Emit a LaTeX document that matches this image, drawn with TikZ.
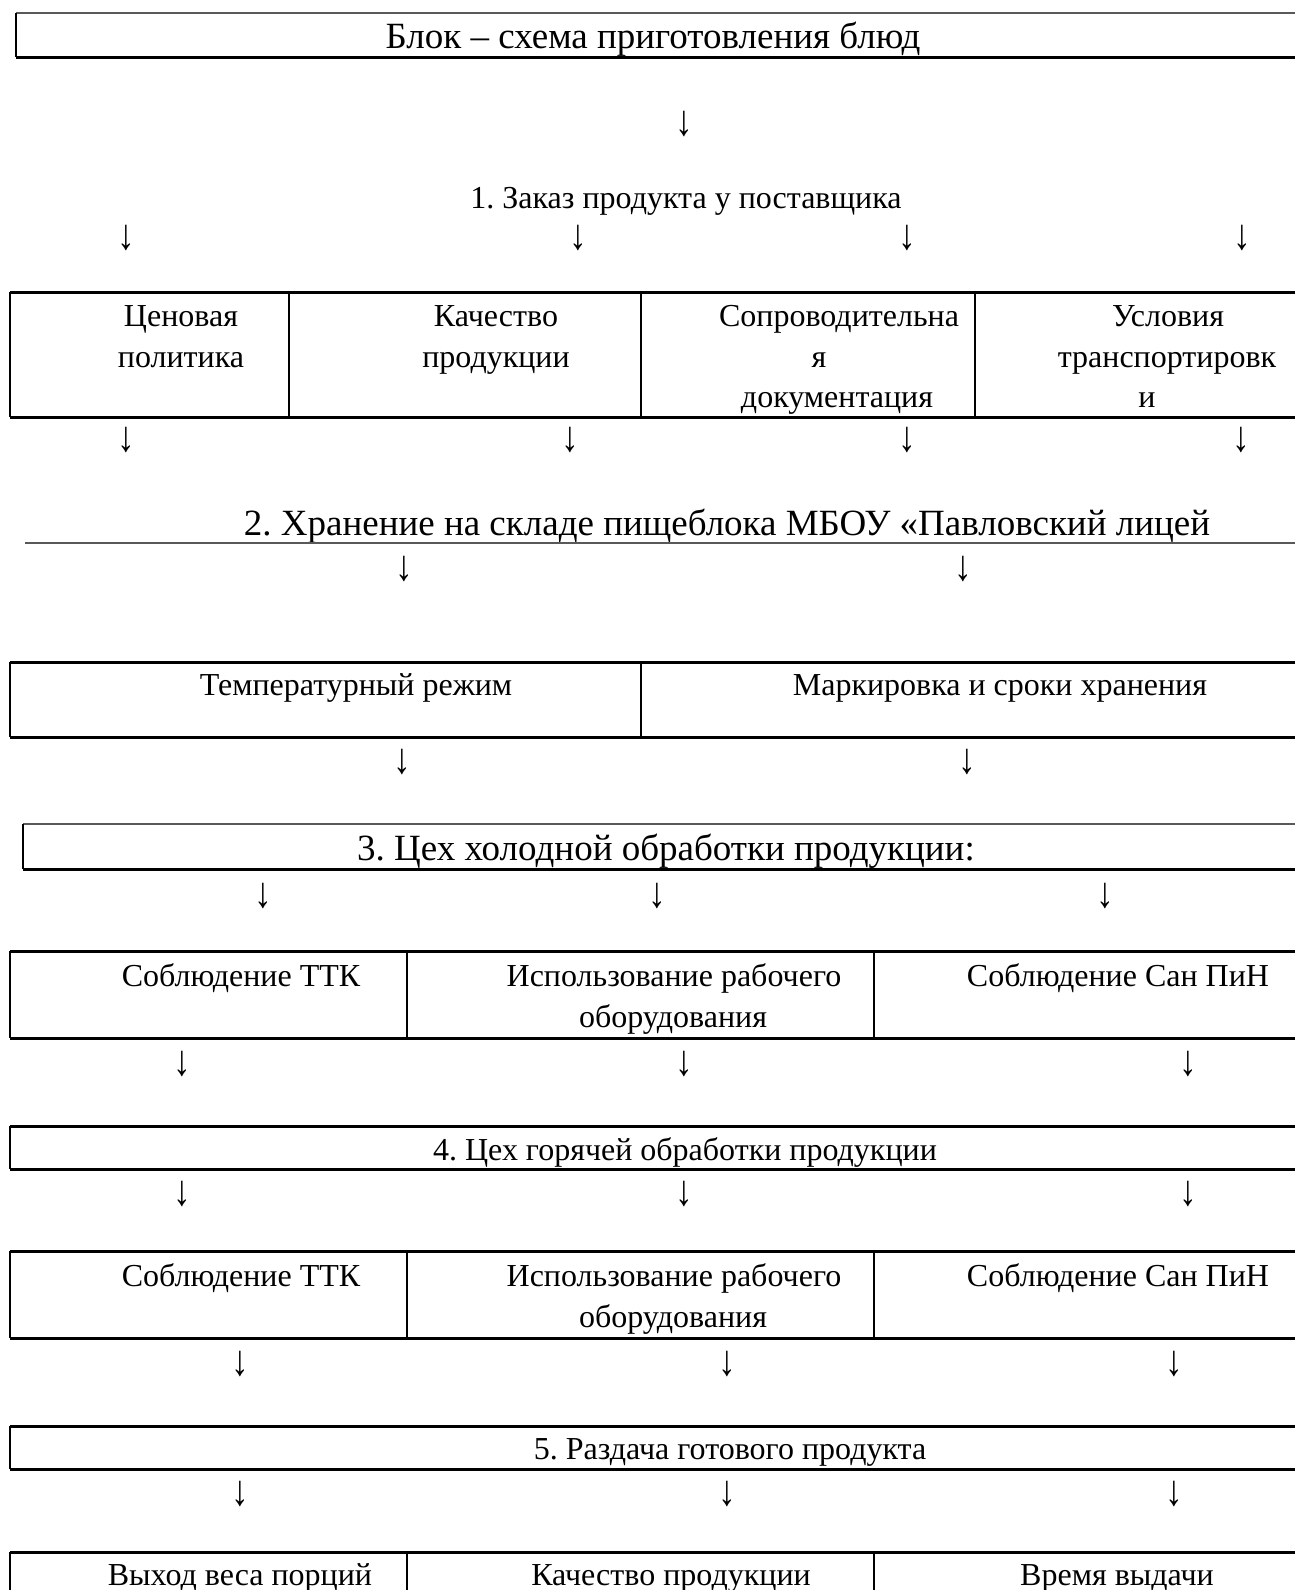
\documentclass[tikz,border=0pt]{standalone}
\usepackage{fontspec}
\usepackage{graphicx}
\setmainfont{Liberation Serif}
\frenchspacing
\newcommand{\dnarrow}{\scalebox{1.1}[1.35]{↓}}
\tikzset{
  txt/.style={inner sep=0pt, outer sep=0pt, anchor=base, font=\fontsize{32}{38}\selectfont},
  big/.style={inner sep=0pt, outer sep=0pt, anchor=base, font=\fontsize{37}{44}\selectfont},
  arrowglyph/.style={inner sep=0pt, outer sep=0pt, anchor=center, font=\fontsize{32}{38}\selectfont},
  rulethick/.style={line width=3pt, black},
  rulegray/.style={line width=2.2pt, black!65},
  sideline/.style={line width=1.5pt, black},
  divider/.style={line width=1.2pt, black},
}
\begin{document}
\begin{tikzpicture}[x=1pt,y=-1pt]
\clip (0,0) rectangle (1295,1590);
\fill[white] (0,0) rectangle (1295,1590);

% ---------- title box ----------
\draw[rulegray] (16,13) -- (1300,13);
\draw[rulethick] (16,57) -- (1300,57);
\draw[sideline] (16,13) -- (16,57);
\node[big] (title) at (653,48) {Блок – схема приготовления блюд};

\node[arrowglyph] (a0) at (684,124.5) {\dnarrow};

% ---------- step 1 ----------
\node[txt] (s1) at (686,208) {1. Заказ продукта у поставщика};
\node[arrowglyph] (a1a) at (126,238) {\dnarrow};
\node[arrowglyph] (a1b) at (578,238) {\dnarrow};
\node[arrowglyph] (a1c) at (907,238) {\dnarrow};
\node[arrowglyph] (a1d) at (1242,238) {\dnarrow};

% table 1
\draw[rulethick] (10,292) -- (1300,292);
\draw[rulethick] (10,417) -- (1300,417);
\draw[sideline] (10,292) -- (10,417);
\draw[divider] (289,292) -- (289,417);
\draw[divider] (641,292) -- (641,417);
\draw[divider] (975,292) -- (975,417);
\node[txt] (c11a) at (181,326) {Ценовая};
\node[txt] (c11b) at (181,367) {политика};
\node[txt] (c12a) at (496,326) {Качество};
\node[txt] (c12b) at (496,367) {продукции};
\node[txt] (c13a) at (839,326) {Сопроводительна};
\node[txt] (c13b) at (819,367) {я};
\node[txt] (c13c) at (837,407) {документация};
\node[txt] (c14a) at (1168,326) {Условия};
\node[txt] (c14b) at (1167,367) {транспортировк};
\node[txt] (c14c) at (1147,407) {и};

\node[arrowglyph] (a2a) at (126,440) {\dnarrow};
\node[arrowglyph] (a2b) at (570,440) {\dnarrow};
\node[arrowglyph] (a2c) at (907,440) {\dnarrow};
\node[arrowglyph] (a2d) at (1241,440) {\dnarrow};

% ---------- step 2 ----------
\node[big] (s2) at (727,535) {2. Хранение на складе пищеблока МБОУ «Павловский лицей};
\draw[rulegray] (25,543) -- (1300,543);
\node[arrowglyph] (a3a) at (404,569) {\dnarrow};
\node[arrowglyph] (a3b) at (963,569) {\dnarrow};

% table 2
\draw[rulethick] (10,662) -- (1300,662);
\draw[rulethick] (10,737) -- (1300,737);
\draw[sideline] (10,662) -- (10,737);
\draw[divider] (641,662) -- (641,737);
\node[txt] (c21) at (356,695) {Температурный режим};
\node[txt] (c22) at (1000,695) {Маркировка и сроки хранения};

\node[arrowglyph] (a4a) at (402,762) {\dnarrow};
\node[arrowglyph] (a4b) at (967,762) {\dnarrow};

% ---------- step 3 ----------
\draw[rulegray] (23,824) -- (1300,824);
\draw[rulethick] (23,869) -- (1300,869);
\draw[sideline] (23,824) -- (23,869);
\node[big] (s3) at (666,860) {3. Цех холодной обработки продукции:};

\node[arrowglyph] (a5a) at (263,896) {\dnarrow};
\node[arrowglyph] (a5b) at (657,896) {\dnarrow};
\node[arrowglyph] (a5c) at (1105,896) {\dnarrow};

% table 3
\draw[rulethick] (10,951) -- (1300,951);
\draw[rulethick] (10,1038) -- (1300,1038);
\draw[sideline] (10,951) -- (10,1038);
\draw[divider] (407,951) -- (407,1038);
\draw[divider] (874,951) -- (874,1038);
\node[txt] (c31) at (241,986) {Соблюдение ТТК};
\node[txt] (c32a) at (674,986) {Использование рабочего};
\node[txt] (c32b) at (673,1027) {оборудования};
\node[txt] (c33) at (1118,986) {Соблюдение Сан ПиН};

\node[arrowglyph] (a6a) at (182,1064) {\dnarrow};
\node[arrowglyph] (a6b) at (684,1064) {\dnarrow};
\node[arrowglyph] (a6c) at (1188,1064) {\dnarrow};

% ---------- step 4 ----------
\draw[rulethick] (10,1126) -- (1300,1126);
\draw[rulethick] (10,1169) -- (1300,1169);
\draw[sideline] (10,1126) -- (10,1169);
\node[txt] (s4) at (685,1160) {4. Цех горячей обработки продукции};

\node[arrowglyph] (a7a) at (182,1194) {\dnarrow};
\node[arrowglyph] (a7b) at (684,1194) {\dnarrow};
\node[arrowglyph] (a7c) at (1188,1194) {\dnarrow};

% table 4
\draw[rulethick] (10,1251) -- (1300,1251);
\draw[rulethick] (10,1338) -- (1300,1338);
\draw[sideline] (10,1251) -- (10,1338);
\draw[divider] (407,1251) -- (407,1338);
\draw[divider] (874,1251) -- (874,1338);
\node[txt] (c41) at (241,1286) {Соблюдение ТТК};
\node[txt] (c42a) at (674,1286) {Использование рабочего};
\node[txt] (c42b) at (673,1327) {оборудования};
\node[txt] (c43) at (1118,1286) {Соблюдение Сан ПиН};

\node[arrowglyph] (a8a) at (240,1364) {\dnarrow};
\node[arrowglyph] (a8b) at (727,1364) {\dnarrow};
\node[arrowglyph] (a8c) at (1174,1364) {\dnarrow};

% ---------- step 5 ----------
\draw[rulethick] (10,1426) -- (1300,1426);
\draw[rulethick] (10,1469) -- (1300,1469);
\draw[sideline] (10,1426) -- (10,1469);
\node[txt] (s5) at (730,1459) {5. Раздача готового продукта};

\node[arrowglyph] (a9a) at (240,1494) {\dnarrow};
\node[arrowglyph] (a9b) at (727,1494) {\dnarrow};
\node[arrowglyph] (a9c) at (1174,1494) {\dnarrow};

% table 5
\draw[rulethick] (10,1552) -- (1300,1552);
\draw[sideline] (10,1552) -- (10,1600);
\draw[divider] (407,1552) -- (407,1600);
\draw[divider] (874,1552) -- (874,1600);
\node[txt] (c51) at (240,1585) {Выход веса порций};
\node[txt] (c52) at (671,1585) {Качество продукции};
\node[txt] (c53) at (1117,1585) {Время выдачи};
\end{tikzpicture}
\end{document}
